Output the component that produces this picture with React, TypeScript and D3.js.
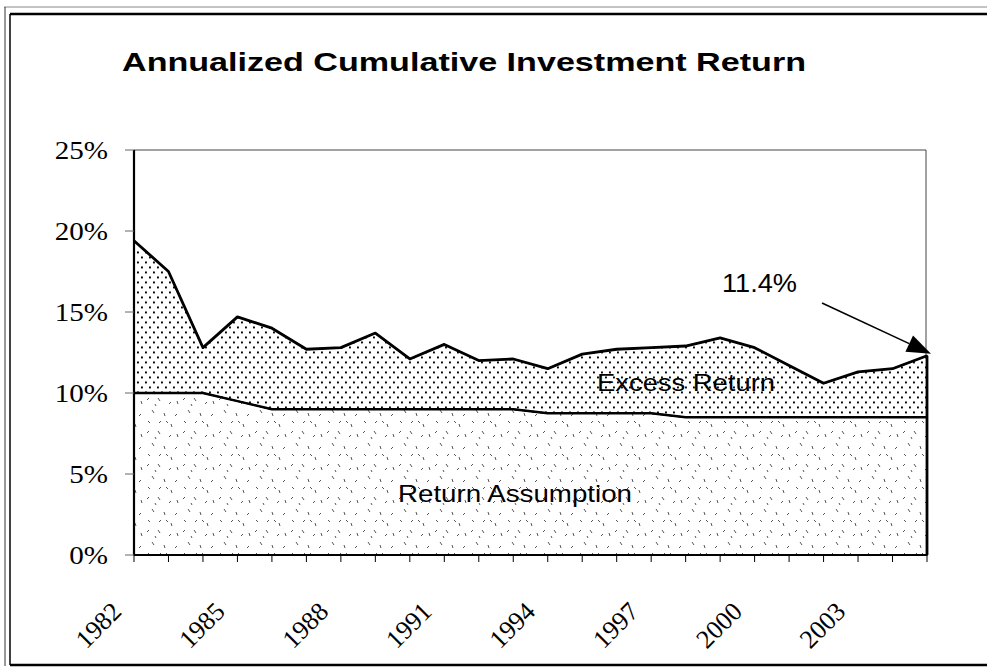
import React from "react";
import * as d3 from "d3";

const years = [1982, 1983, 1984, 1985, 1986, 1987, 1988, 1989, 1990, 1991, 1992, 1993, 1994, 1995, 1996, 1997, 1998, 1999, 2000, 2001, 2002, 2003, 2004, 2005];
const totalReturn = [19.4, 17.5, 12.8, 14.7, 14.0, 12.7, 12.8, 13.7, 12.1, 13.0, 12.0, 12.1, 11.5, 12.4, 12.7, 12.8, 12.9, 13.4, 12.8, 11.7, 10.6, 11.3, 11.5, 12.3];
const returnAssumption = [10, 10, 10, 9.5, 9, 9, 9, 9, 9, 9, 9, 9, 8.75, 8.75, 8.75, 8.75, 8.5, 8.5, 8.5, 8.5, 8.5, 8.5, 8.5, 8.5];
const yTicks = [0, 5, 10, 15, 20, 25];
const xLabelYears = [1982, 1985, 1988, 1991, 1994, 1997, 2000, 2003];
const title = "Annualized Cumulative Investment Return";
const annotation = "11.4%";
const seriesLabels = ["Return Assumption", "Excess Return"];

const W = 987;
const H = 669;
const left = 134;
const right = 927;
const top = 150;
const bottom = 555;

export default function App() {
  const x = d3.scaleLinear().domain([years[0], years[years.length - 1]]).range([left, right]);
  const y = d3.scaleLinear().domain([0, 25]).range([bottom, top]);

  const rows = years.map((yr, i) => ({ yr, a: returnAssumption[i], t: totalReturn[i] }));

  const assumptionArea = d3
    .area<any>()
    .x((d) => x(d.yr))
    .y0(() => y(0))
    .y1((d) => y(d.a))(rows);
  const excessArea = d3
    .area<any>()
    .x((d) => x(d.yr))
    .y0((d) => y(d.a))
    .y1((d) => y(d.t))(rows);
  const upperLine = d3.line<any>().x((d) => x(d.yr)).y((d) => y(d.t))(rows);
  const lowerLine = d3.line<any>().x((d) => x(d.yr)).y((d) => y(d.a))(rows);

  const lastX = x(years[years.length - 1]);
  const lastY = y(totalReturn[totalReturn.length - 1]);
  const tip: [number, number] = [lastX + 4, lastY - 2];
  const start: [number, number] = [822, 303];
  const dx = tip[0] - start[0];
  const dy = tip[1] - start[1];
  const len = Math.sqrt(dx * dx + dy * dy);
  const ux = dx / len;
  const uy = dy / len;
  const hl = 24;
  const hw = 9;
  const bx = tip[0] - ux * hl;
  const by = tip[1] - uy * hl;
  const head = `${tip[0]},${tip[1]} ${bx - uy * hw},${by + ux * hw} ${bx + uy * hw},${by - ux * hw}`;

  const dashes: [number, number, number, number][] = [
    [3, 4, 5, 2], [14, 2, 16, 5], [25, 8, 27, 6], [8, 14, 10, 17], [20, 17, 21, 20],
    [31, 20, 33, 18], [4, 25, 6, 27], [15, 27, 17, 25], [27, 28, 28, 31], [11, 8, 12, 10],
    [33, 5, 34, 8], [22, 25, 24, 27],
  ];

  return (
    <svg width={W} height={H} style={{ display: "block", position: "absolute", left: 0, top: 0 }}>
      <defs>
        <pattern id="dots" width={8} height={10} patternUnits="userSpaceOnUse">
          <rect width={8} height={10} fill="#fff" />
          <rect x={1} y={1.5} width={1.9} height={1.9} fill="#000" />
          <rect x={5} y={6.5} width={1.9} height={1.9} fill="#000" />
        </pattern>
        <pattern id="sparse" width={36} height={33} patternUnits="userSpaceOnUse">
          <rect width={36} height={33} fill="#fff" />
          {dashes.map((d, i) => (
            <line key={i} x1={d[0]} y1={d[1]} x2={d[2]} y2={d[3]} stroke="#555" strokeWidth={1} />
          ))}
        </pattern>
      </defs>
      <rect x={0} y={0} width={W} height={H} fill="#fff" />

      {/* outer frame */}
      <line x1={4} y1={7} x2={W} y2={7} stroke="#888" strokeWidth={1} />
      <line x1={5} y1={7} x2={5} y2={666} stroke="#333" strokeWidth={1} />
      <line x1={10} y1={14} x2={W} y2={14} stroke="#000" strokeWidth={2.5} />
      <line x1={10} y1={14} x2={10} y2={665} stroke="#000" strokeWidth={1.5} />
      <line x1={10} y1={665} x2={W} y2={665} stroke="#000" strokeWidth={2.5} />

      {/* title */}
      <text x={122} y={71} fontFamily="'Liberation Sans', Arial, sans-serif" fontWeight="bold" fontSize={26} textLength={684} lengthAdjust="spacingAndGlyphs" fill="#000">
        {title}
      </text>

      {/* plot area border */}
      <line x1={left} y1={top} x2={right - 1} y2={top} stroke="#444" strokeWidth={1} />
      <line x1={right - 1} y1={top} x2={right - 1} y2={bottom} stroke="#444" strokeWidth={1} />

      {/* areas */}
      <path d={assumptionArea ?? ""} fill="url(#sparse)" stroke="#000" strokeWidth={1.5} />
      <path d={excessArea ?? ""} fill="url(#dots)" stroke="#000" strokeWidth={1.5} />
      <path d={upperLine ?? ""} fill="none" stroke="#000" strokeWidth={2.8} strokeLinejoin="round" />
      <path d={lowerLine ?? ""} fill="none" stroke="#000" strokeWidth={2.5} strokeLinejoin="round" />
      <line x1={lastX} y1={lastY} x2={lastX} y2={bottom} stroke="#000" strokeWidth={2.8} />

      {/* axes */}
      <line x1={left} y1={top} x2={left} y2={bottom} stroke="#000" strokeWidth={2.2} />
      <line x1={left} y1={bottom} x2={right} y2={bottom} stroke="#000" strokeWidth={2.2} />
      {years.map((yr) => (
        <line key={yr} x1={x(yr)} y1={bottom} x2={x(yr)} y2={bottom + 7} stroke="#000" strokeWidth={1} />
      ))}
      {yTicks.map((t) => (
        <g key={t}>
          <line x1={125} y1={y(t)} x2={left} y2={y(t)} stroke="#666" strokeWidth={1} />
          <text
            transform={`translate(108,${y(t) + 9}) scale(1.12,1)`}
            textAnchor="end"
            fontFamily="'Liberation Serif', 'Times New Roman', serif"
            fontSize={26}
            fill="#000"
          >
            {t}%
          </text>
        </g>
      ))}
      {xLabelYears.map((yr) => (
        <text
          key={yr}
          transform={`translate(${x(yr) - 11},613) rotate(-45)`}
          textAnchor="end"
          fontFamily="'Liberation Serif', 'Times New Roman', serif"
          fontSize={26}
          fill="#000"
        >
          {yr}
        </text>
      ))}

      {/* series labels */}
      <text x={398} y={502} fontFamily="'Liberation Sans', Arial, sans-serif" fontSize={24} textLength={234} lengthAdjust="spacingAndGlyphs" fill="#000">
        {seriesLabels[0]}
      </text>
      <text x={597} y={391} fontFamily="'Liberation Sans', Arial, sans-serif" fontSize={24} textLength={178} lengthAdjust="spacingAndGlyphs" fill="#000">
        {seriesLabels[1]}
      </text>

      {/* annotation */}
      <text x={722} y={292} fontFamily="'Liberation Sans', Arial, sans-serif" fontSize={25} textLength={75} lengthAdjust="spacingAndGlyphs" fill="#000">
        {annotation}
      </text>
      <line x1={start[0]} y1={start[1]} x2={bx} y2={by} stroke="#000" strokeWidth={1.6} />
      <polygon points={head} fill="#000" />
    </svg>
  );
}
